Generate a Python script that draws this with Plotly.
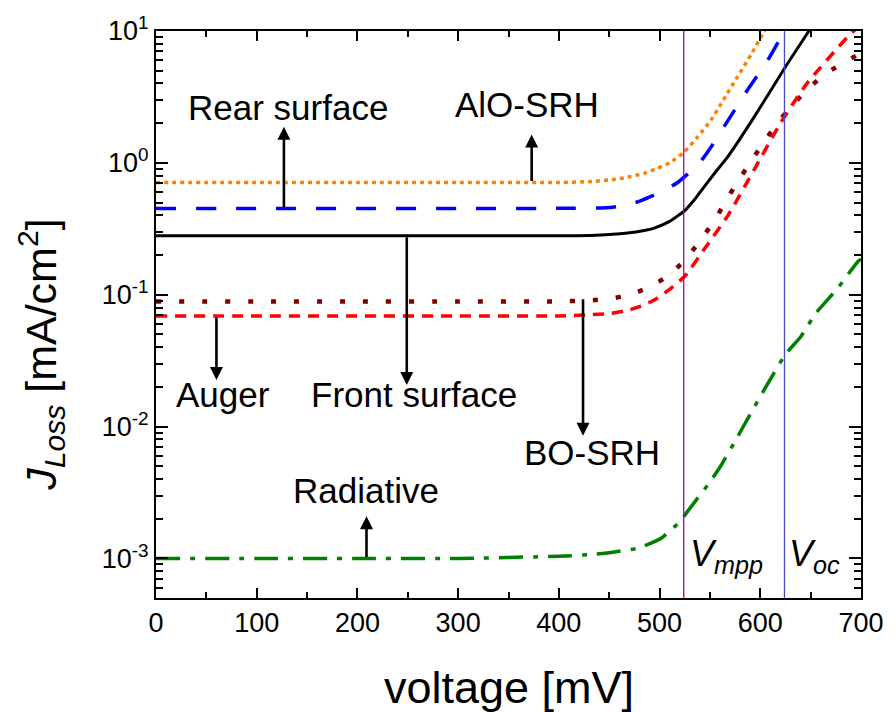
import numpy as np
import plotly.graph_objects as go

# ---------------- data ----------------
v_alo = [0, 100, 200, 300, 400, 430, 456, 472, 486, 498, 510, 525, 538, 551, 564, 577, 591, 602, 612]
j_alo = [0.71, 0.71, 0.71, 0.71, 0.71, 0.72, 0.75, 0.79, 0.84, 0.91, 1.0, 1.22, 1.58, 2.11, 3.06, 4.45, 6.65, 9.4, 12.6]

v_rear = [0, 100, 200, 300, 400, 446, 465, 479, 492, 505, 518, 530, 541, 552, 564, 587, 607, 623, 632]
j_rear = [0.45, 0.45, 0.45, 0.45, 0.452, 0.456, 0.475, 0.508, 0.56, 0.62, 0.71, 0.85, 1.03, 1.35, 1.88, 3.54, 5.93, 9.7, 12.5]

v_front = [0, 100, 200, 300, 400, 437, 466, 486, 496, 510, 525, 535, 545, 556, 568, 594, 625, 646, 655]
j_front = [0.28, 0.28, 0.28, 0.28, 0.28, 0.283, 0.292, 0.308, 0.323, 0.36, 0.435, 0.53, 0.67, 0.86, 1.12, 2.23, 5.35, 9.4, 12.0]

v_auger = [0, 100, 200, 300, 400, 430, 450, 466, 482, 496, 510, 525, 545, 568, 594, 620, 646, 686, 700]
j_auger = [0.069, 0.069, 0.069, 0.069, 0.069, 0.0705, 0.072, 0.0755, 0.082, 0.0924, 0.11, 0.138, 0.225,
           0.40, 0.89, 2.0, 3.97, 8.9, 11.3]

v_bo = [0, 100, 200, 300, 400, 430, 450, 469, 490, 509, 526, 540, 554, 566, 578, 591, 604, 617, 632, 648,
        667, 687, 700]
j_bo = [0.089, 0.089, 0.089, 0.089, 0.089, 0.0905, 0.093, 0.0995, 0.114, 0.14, 0.186, 0.256, 0.36, 0.517,
        0.73, 1.03, 1.45, 2.01, 2.73, 3.7, 4.85, 6.0, 6.8]

v_rad = [0, 100, 200, 300, 400, 432, 455, 479, 502, 520, 531, 550, 561, 576, 587, 600, 625, 640, 655, 676,
         697, 700]
j_rad = [0.001, 0.001, 0.001, 0.001, 0.00104, 0.00107, 0.00112, 0.0012, 0.00143, 0.0019, 0.00245, 0.0038,
         0.00507, 0.008, 0.0113, 0.0169, 0.0354, 0.0478, 0.0722, 0.11, 0.179, 0.186]

v_mpp = 524
v_oc = 624

x_ticks = [0, 100, 200, 300, 400, 500, 600, 700]
y_ticks = [1e-3, 1e-2, 1e-1, 1e0, 1e1]
y_ticktext = ["10<sup>-3</sup>", "10<sup>-2</sup>", "10<sup>-1</sup>", "10<sup>0</sup>", "10<sup>1</sup>"]

# label texts and their anchors (voltage, J)
labels = [
    ("Rear surface", 131, 2.63),
    ("AlO-SRH", 368, 2.77),
    ("Auger", 67, 0.0175),
    ("Front surface", 256, 0.0175),
    ("BO-SRH", 433, 0.0064),
    ("Radiative", 209, 0.0033),
]
arrows = [  # (voltage, J tail, J head)
    (127, 0.45, 1.88),
    (373, 0.71, 1.64),
    (249, 0.28, 0.0207),
    (60, 0.069, 0.0226),
    (424, 0.095, 0.00853),
    (209, 0.001, 0.00209),
]

FONT = "Liberation Sans, Arial, sans-serif"

fig = go.Figure()


def add(v, j, color, dash, width):
    fig.add_trace(go.Scatter(x=v, y=j, mode="lines",
                             line=dict(color=color, dash=dash, width=width, shape="spline", smoothing=0.5),
                             showlegend=False, hoverinfo="skip"))


add(v_rad, j_rad, "#008000", "24px,10px,5px,10px", 3.5)
add(v_bo, j_bo, "#800000", "5px,18px", 4.5)
add(v_auger, j_auger, "#ff0000", "11px,8px", 3.5)
add(v_front, j_front, "#000000", "solid", 3)
add(v_rear, j_rear, "#0000ff", "20px,20px", 3.5)
add(v_alo, j_alo, "#ff8000", "4px,4px", 3.5)

fig.add_shape(type="line", xref="x", yref="paper", x0=v_mpp, x1=v_mpp, y0=0, y1=1,
              line=dict(color="#a000a0", width=1.3))
fig.add_shape(type="line", xref="x", yref="paper", x0=v_oc, x1=v_oc, y0=0, y1=1,
              line=dict(color="#4848c0", width=1.3))

for txt, vx, jy in labels:
    fig.add_annotation(x=vx, y=np.log10(jy), xref="x", yref="y", text=txt, showarrow=False,
                       font=dict(family=FONT, size=35, color="black"), xanchor="center", yanchor="middle")

for vx, jt, jh in arrows:
    fig.add_annotation(x=vx, y=np.log10(jh), ax=vx, ay=np.log10(jt), xref="x", yref="y",
                       axref="x", ayref="y", text="", showarrow=True, arrowhead=2,
                       arrowsize=1.0, arrowwidth=2.6, arrowcolor="black", standoff=0, startstandoff=0)

fig.add_annotation(x=v_mpp + 4, y=np.log10(0.00105), xref="x", yref="y",
                   text="<i>V</i><sub><i>mpp</i></sub>", showarrow=False, xanchor="left", yanchor="middle",
                   font=dict(family=FONT, size=36, color="black"))
fig.add_annotation(x=v_oc + 3, y=np.log10(0.00105), xref="x", yref="y",
                   text="<i>V</i><sub><i>oc</i></sub>", showarrow=False, xanchor="left", yanchor="middle",
                   font=dict(family=FONT, size=36, color="black"))

# axis titles
fig.add_annotation(x=0.5, y=-0.157, xref="paper", yref="paper", text="voltage [mV]", showarrow=False,
                   xanchor="center", yanchor="middle", font=dict(family=FONT, size=45, color="black"))
fig.add_annotation(x=-0.163, y=0.429, xref="paper", yref="paper", textangle=-90,
                   text="<i>J</i><sub><i>Loss</i></sub> [mA/cm<sup>2</sup>]", showarrow=False,
                   xanchor="center", yanchor="middle", font=dict(family=FONT, size=43, color="black"))

minor_y = [m * 10.0 ** e for e in range(-4, 1) for m in range(2, 10)]

fig.update_layout(
    width=896, height=712,
    margin=dict(l=156, r=28, t=25, b=114),
    paper_bgcolor="white", plot_bgcolor="white",
    font=dict(family=FONT, color="black"),
    xaxis=dict(range=[0, 700], tickmode="array", tickvals=x_ticks, ticks="inside", ticklen=10,
               tickwidth=2, tickcolor="black", showline=True, linecolor="black", linewidth=2,
               mirror="allticks", showgrid=False, zeroline=False,
               tickfont=dict(family=FONT, size=27, color="black"),
               minor=dict(dtick=50, ticks="inside", ticklen=6, tickwidth=2, tickcolor="black", showgrid=False)),
    yaxis=dict(type="log", range=[-3.30, 1.0], tickmode="array", tickvals=y_ticks, ticktext=y_ticktext,
               ticks="inside", ticklen=12, tickwidth=2, tickcolor="black", showline=True,
               linecolor="black", linewidth=2, mirror="allticks", showgrid=False, zeroline=False,
               tickfont=dict(family=FONT, size=27, color="black"),
               minor=dict(tickmode="array", tickvals=minor_y, ticks="inside", ticklen=7, tickwidth=2,
                          tickcolor="black", showgrid=False)),
)

fig.write_html("out.html")
